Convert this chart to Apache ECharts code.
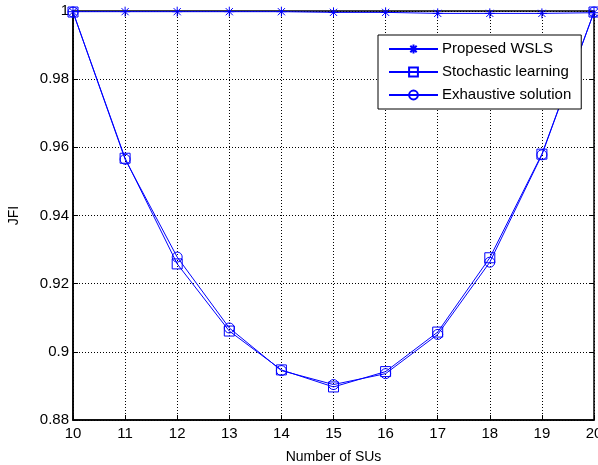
<!DOCTYPE html>
<html>
<head>
<meta charset="utf-8">
<script src="https://cdn.jsdelivr.net/npm/echarts@6/dist/echarts.min.js"></script>
<style>
  html, body { margin: 0; padding: 0; background: #fff; }
  #chart { width: 598px; height: 465px; }
</style>
</head>
<body>
<div id="chart"></div>
<script>
// JFI vs number of SUs, three methods
const numSUs = [10, 11, 12, 13, 14, 15, 16, 17, 18, 19, 20];
const wsls = [0.9998, 0.9998, 0.9998, 0.9998, 0.9998, 0.9996, 0.9996, 0.9993, 0.9993, 0.9993, 0.9995];
const stochastic = [0.9997, 0.9568, 0.9258, 0.9061, 0.8947, 0.8897, 0.8942, 0.9058, 0.9276, 0.9580, 0.9997];
const exhaustive = [0.9997, 0.9565, 0.9278, 0.9070, 0.8945, 0.8904, 0.8936, 0.9051, 0.9263, 0.9578, 0.9997];
const yTicks = [0.88, 0.9, 0.92, 0.94, 0.96, 0.98, 1];

const blue = "#0000ff";
const font = "Liberation Sans, Arial, sans-serif";
const starPath = "path://M0,-5L0,5M-5,0L5,0M-3.6,-3.6L3.6,3.6M-3.6,3.6L3.6,-3.6";
const squarePath = "path://M0,0L10,0L10,10L0,10Z";

const pairs = (ys) => numSUs.map((x, i) => [x, ys[i]]);

function makeSeries(name, ys, symbol, size) {
  return {
    name,
    type: "line",
    data: pairs(ys),
    symbol,
    symbolSize: size,
    showAllSymbol: true,
    lineStyle: { color: blue, width: 1 },
    itemStyle: { color: "transparent", borderColor: blue, borderWidth: 1 },
    emphasis: { disabled: true },
    z: 3
  };
}

const chart = echarts.init(document.getElementById("chart"), null, { renderer: "canvas" });

const tickStyle = { show: true, inside: true, length: 5, lineStyle: { color: "#000", width: 1 } };

chart.setOption({
  animation: false,
  backgroundColor: "#fff",
  textStyle: { fontFamily: font },
  grid: {
    left: 73, right: 4, top: 11, bottom: 45,
    outerBoundsMode: "none",
    containLabel: false,
    show: true, borderColor: "#000", borderWidth: 1.5, backgroundColor: "transparent"
  },
  legend: {
    left: 378, top: 35,
    orient: "vertical",
    backgroundColor: "#fff",
    borderColor: "#000",
    borderWidth: 1,
    borderRadius: 0,
    padding: [6, 10, 6, 10],
    itemWidth: 49,
    itemHeight: 11,
    itemGap: 7,
    textStyle: { fontFamily: font, fontSize: 15, color: "#000", lineHeight: 16, padding: [0, 0, 0, -1] },
    data: ["Propesed WSLS", "Stochastic learning", "Exhaustive solution"]
  },
  xAxis: [{
    type: "value",
    min: 10, max: 20, interval: 1,
    name: "Number of SUs",
    nameLocation: "middle",
    nameGap: 30,
    nameTextStyle: { fontFamily: font, fontSize: 14, color: "#000" },
    axisLine: { show: true, onZero: false, lineStyle: { color: "#000", width: 1.5 } },
    axisTick: tickStyle,
    axisLabel: { fontFamily: font, fontSize: 15, color: "#000", margin: 6 },
    splitLine: { show: true, lineStyle: { color: "#000", type: [1, 2], width: 1 } }
  }, {
    type: "value",
    position: "top",
    min: 10, max: 20, interval: 1,
    axisLine: { show: false },
    axisTick: tickStyle,
    axisLabel: { show: false },
    splitLine: { show: false }
  }],
  yAxis: [{
    type: "value",
    min: 0.88, max: 1, interval: 0.02,
    name: "JFI",
    nameLocation: "middle",
    nameGap: 52,
    nameTextStyle: { fontFamily: font, fontSize: 14, color: "#000" },
    axisLine: { show: true, onZero: false, lineStyle: { color: "#000", width: 1.5 } },
    axisTick: tickStyle,
    axisLabel: {
      fontFamily: font, fontSize: 15, color: "#000", margin: 4,
      formatter: (v) => String(parseFloat(v.toFixed(2)))
    },
    splitLine: { show: true, lineStyle: { color: "#000", type: [1, 2], width: 1 } }
  }, {
    type: "value",
    position: "right",
    min: 0.88, max: 1, interval: 0.02,
    axisLine: { show: false },
    axisTick: tickStyle,
    axisLabel: { show: false },
    splitLine: { show: false }
  }],
  series: [
    makeSeries("Propesed WSLS", wsls, starPath, 10),
    makeSeries("Stochastic learning", stochastic, squarePath, 10),
    makeSeries("Exhaustive solution", exhaustive, "circle", 10)
  ]
});
</script>
</body>
</html>
